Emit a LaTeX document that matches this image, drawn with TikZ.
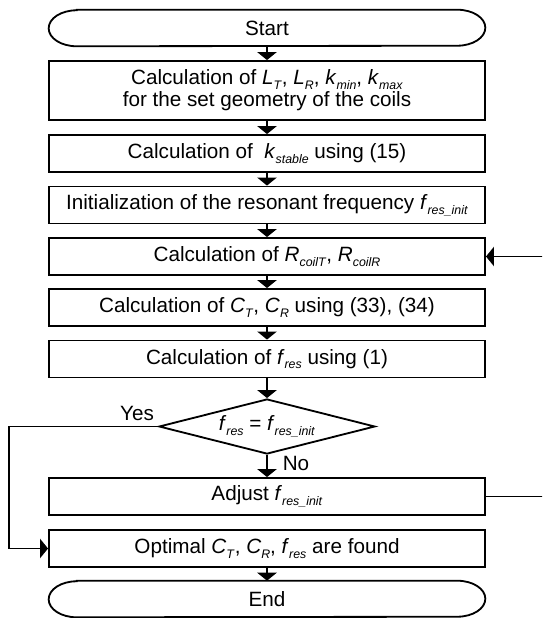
\documentclass[tikz,border=0pt]{standalone}
\usepackage{fontspec}
\setmainfont{Liberation Sans}
\usetikzlibrary{shapes.geometric,arrows.meta,positioning}
\newcommand{\vsub}[2]{\textit{#1}\raisebox{-0.22em}{\fontsize{8.8}{9}\selectfont\textit{#2}}}

\begin{document}
\begin{tikzpicture}[x=0.025cm, y=-0.025cm, >={Triangle[width=0.48cm,length=0.2cm]},
    font=\fontsize{14.7}{15.6}\selectfont,
    box/.style={draw, line width=1.3pt, minimum width=10.9cm, minimum height=0.925cm, inner sep=0pt, align=center},
    term/.style={minimum width=10.9cm, minimum height=0.9cm, inner sep=0pt},
    flow/.style={line width=1.3pt}]
      \useasboundingbox (0,0) rectangle (542,618);
      \clip (0,0) rectangle (542,618);

      % Start terminal
      \node[term] (start) at (267,28) {Start};
      \draw[flow] ([xshift=0.7cm]start.north west) -- ([xshift=-0.7cm]start.north east)
        arc[start angle=90, end angle=-90, x radius=0.7cm, y radius=0.45cm]
        -- ([xshift=0.7cm]start.south west)
        arc[start angle=270, end angle=90, x radius=0.7cm, y radius=0.45cm] -- cycle;

      % Process steps
      \node[box, minimum height=1.475cm] (geom) at (267,90.5) {Calculation of \vsub{L}{T}, \vsub{L}{R}, \vsub{k}{min}, \vsub{k}{max}\\for the set geometry of the coils};
      \node[box] (stab) at (267,153.5) {Calculation of \ \vsub{k}{stable} using (15)};
      \node[box] (init) at (267,205) {Initialization of the resonant frequency \vsub{f}{res\_init}};
      \node[box] (coil) at (267,256.5) {Calculation of \vsub{R}{coilT}, \vsub{R}{coilR}};
      \node[box] (cap) at (267,307.5) {Calculation of \vsub{C}{T}, \vsub{C}{R} using (33), (34)};
      \node[box] (fres) at (267,359) {Calculation of \vsub{f}{res} using (1)};

      % Decision
      \node[diamond, draw, line width=1.3pt, minimum width=5.4cm, minimum height=1.375cm, inner sep=0pt, aspect=4] (test) at (267,426.5) {\vsub{f}{res} = \vsub{f}{res\_init}};
      \node (yes) at (137,413) {Yes};
      \node (no) at (296,463) {No};

      \node[box] (adj) at (267,496.5) {Adjust \vsub{f}{res\_init}};
      \node[box] (opt) at (267,548.5) {Optimal \vsub{C}{T}, \vsub{C}{R}, \vsub{f}{res} are found};

      % End terminal
      \node[term] (end) at (267,599) {End};
      \draw[flow] ([xshift=0.7cm]end.north west) -- ([xshift=-0.7cm]end.north east)
        arc[start angle=90, end angle=-90, x radius=0.7cm, y radius=0.45cm]
        -- ([xshift=0.7cm]end.south west)
        arc[start angle=270, end angle=90, x radius=0.7cm, y radius=0.45cm] -- cycle;

      % Main flow
      \draw[flow,->] (start) -- (geom);
      \draw[flow,->] (geom) -- (stab);
      \draw[flow,->] (stab) -- (init);
      \draw[flow,->] (init) -- (coil);
      \draw[flow,->] (coil) -- (cap);
      \draw[flow,->] (cap) -- (fres);
      \draw[flow,->] (fres) -- (test);
      \draw[flow,->] (test) -- (adj);
      \draw[flow,->] (opt) -- (end);

      % Yes branch and loop back
      \coordinate (yesx) at (9,0);
      \coordinate (loopx) at (560,0);
      \draw[flow,->] (test.west) -- (test.west -| yesx) |- (opt.west);
      \draw[flow,->] (adj.east) -- (adj.east -| loopx) |- (coil.east);

    \end{tikzpicture}
\end{document}
